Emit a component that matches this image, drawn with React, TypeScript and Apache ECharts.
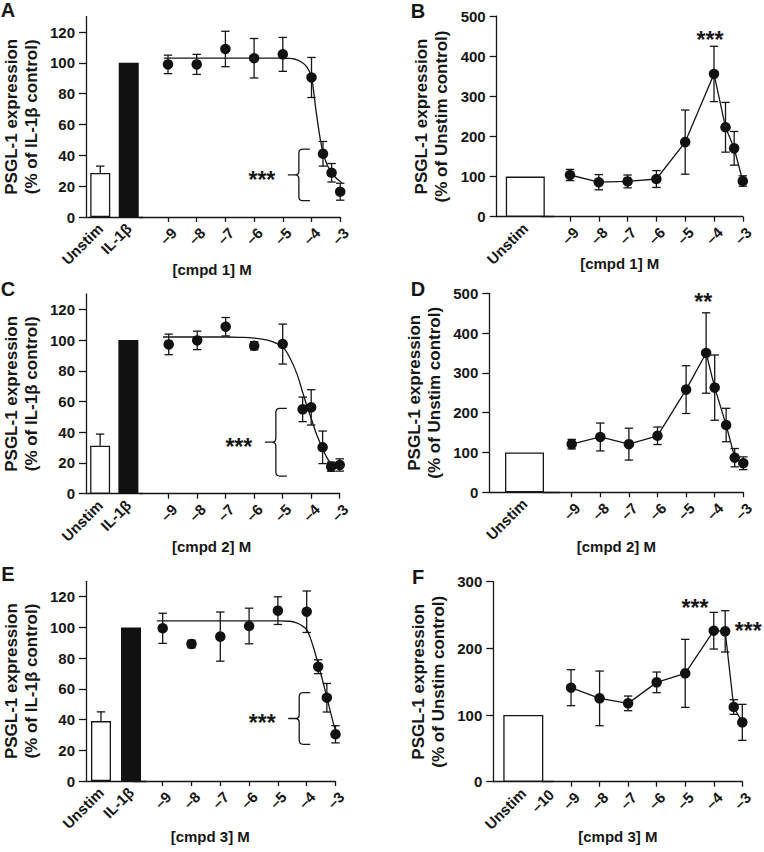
import React, { useEffect, useRef } from "react";
import * as echarts from "echarts";

// ---------------- data ----------------
const barCatsIL = ["Unstim", "IL-1β"];
const barCatsUnstim = ["Unstim"];
const logTicks = [-9, -8, -7, -6, -5, -4, -3];
const logLabelsF = [-10, -9, -8, -7, -6, -5, -4, -3];
const yTicksPct = [0, 20, 40, 60, 80, 100, 120];
const yTicks500 = [0, 100, 200, 300, 400, 500];
const yTicks300 = [0, 100, 200, 300];

// Panel A  (cmpd 1, % of IL-1β control)
const barA = [28.5, 100];
const barErrA = [4.5, 0];
const doseA = [-9, -8, -7, -6, -5, -4, -3.6, -3.3, -3];
const meanA = [99, 99, 109, 103, 105.5, 90.5, 41, 28.7, 16.4];
const errA = [6, 6.5, 11.5, 12.8, 11, 13, 8, 6, 5.5];
const fitXA = [-9.15, -6, -5, -4.6, -4.35, -4.15, -4, -3.85, -3.7, -3.6, -3.45, -3.3, -3.15, -3, -2.85];
const fitYA = [103, 103, 103, 102.5, 100.5, 97, 90.5, 70, 51, 42, 33.5, 29, 25.5, 23, 21.5];

// Panel B  (cmpd 1, % of Unstim control)
const barB = [100];
const doseB = [-9, -8, -7, -6, -5, -4, -3.6, -3.3, -3];
const meanB = [104, 86, 88, 94, 186, 356, 223, 170.5, 89];
const errB = [14, 19, 16, 21, 80, 69, 62, 42, 13];

// Panel C  (cmpd 2, % of IL-1β control)
const barC = [31.2, 100];
const barErrC = [7.6, 0];
const doseC = [-9, -8, -7, -6, -5, -4.3, -4, -3.6, -3.3, -3];
const meanC = [97.2, 99.8, 108.7, 96.3, 97.4, 54.9, 56.2, 30.2, 17.6, 18.7];
const errC = [6.7, 6, 6, 2.7, 13, 8, 11.5, 10.6, 3, 4];
const fitXC = [-9.2, -7, -6.5, -6, -5.5, -5, -4.75, -4.5, -4.3, -4.15, -4, -3.8, -3.6, -3.45, -3.3, -3.15];
const fitYC = [102, 102, 101.8, 101.3, 99.8, 95.5, 88.5, 78, 66, 57, 49, 38, 29.5, 23.5, 19.5, 16.5];

// Panel D  (cmpd 2, % of Unstim control)
const barD = [100];
const doseD = [-9, -8, -7, -6, -5, -4.3, -4, -3.6, -3.3, -3];
const meanD = [121, 139, 121, 142, 258, 350, 263, 169, 87, 73];
const errD = [12, 35, 40, 22, 60, 101, 82, 42, 23, 16];

// Panel E  (cmpd 3, % of IL-1β control)
const barE = [39, 100];
const barErrE = [6, 0];
const doseE = [-9, -8, -7, -6, -5, -4, -3.6, -3.3, -3];
const meanE = [99.4, 89.2, 94, 100.9, 110.9, 110.2, 74.4, 54.2, 30.4];
const errE = [9.8, 2.5, 16, 11.6, 9, 13.5, 4.5, 9.3, 5.6];
const fitXE = [-9.2, -6, -5, -4.6, -4.35, -4.2, -4, -3.8, -3.6, -3.45, -3.3, -3.15, -3, -2.95];
const fitYE = [104.3, 104.3, 104.3, 104, 103, 101.5, 98.5, 89, 76, 65.5, 54.5, 43, 32.5, 29];

// Panel F  (cmpd 3, % of Unstim control)
const barF = [100];
const doseF = [-9, -8, -7, -6, -5, -4, -3.6, -3.3, -3];
const meanF = [141, 125, 117.5, 149, 162.5, 226.5, 225.5, 112, 89];
const errF = [27, 41, 11, 15.5, 51, 27.5, 31, 11, 27];

// significance annotations: brace [x, low, high] and star labels [x, y, text]
const braceA = [-4.44, 10.6, 44];
const braceC = [-5.24, 11.5, 55.6];
const braceE = [-4.26, 23.9, 57.5];
const starsB = [[-4.14, 453, "***"]];
const starsD = [[-4.4, 490, "**"]];
const starsF = [[-4.66, 268, "***"], [-2.79, 233, "***"]];

// ---------------- styling / layout ----------------
const FONT = '"Liberation Sans", Arial, Helvetica, sans-serif';
const INK = "#161616";
const LW = 1.3;

const titlePct = "PSGL-1 expression\n(% of IL-1β control)";
const titleUnstim = "PSGL-1 expression\n(% of Unstim control)";

type Panel = {
  letter: string;
  letterPos: [number, number];
  axisX: number; yTop: number; y0: number;
  barGridW: number; barW: number;
  logL: number; logR: number;
  yMax: number; yTicks: number[];
  yName: string; xName: string; xNameY: number;
  cats: string[]; bars: number[]; barErr?: number[];
  dose: number[]; mean: number[]; err: number[];
  fitX?: number[]; fitY?: number[];
  labels: number[];
  brace?: number[];
  stars?: any[];
};

const panels: Panel[] = [
  {
    letter: "A", letterPos: [8, 10], axisX: 84, yTop: 16.6, y0: 217, barGridW: 59, barW: 20,
    logL: 139.3, logR: 340.2, yMax: 130, yTicks: yTicksPct, yName: titlePct,
    xName: "[cmpd 1] M", xNameY: 269, cats: barCatsIL, bars: barA, barErr: barErrA,
    dose: doseA, mean: meanA, err: errA, fitX: fitXA, fitY: fitYA, labels: logTicks, brace: braceA,
  },
  {
    letter: "B", letterPos: [418, 11], axisX: 496.7, yTop: 16.2, y0: 216.7, barGridW: 57.2, barW: 39,
    logL: 541.2, logR: 742.8, yMax: 500, yTicks: yTicks500, yName: titleUnstim,
    xName: "[cmpd 1] M", xNameY: 263, cats: barCatsUnstim, bars: barB,
    dose: doseB, mean: meanB, err: errB, labels: logTicks, stars: starsB,
  },
  {
    letter: "C", letterPos: [8, 289], axisX: 83.5, yTop: 294, y0: 493.7, barGridW: 59, barW: 20,
    logL: 140.2, logR: 339.7, yMax: 130, yTicks: yTicksPct, yName: titlePct,
    xName: "[cmpd 2] M", xNameY: 546.7, cats: barCatsIL, bars: barC, barErr: barErrC,
    dose: doseC, mean: meanC, err: errC, fitX: fitXC, fitY: fitYC, labels: logTicks, brace: braceC,
  },
  {
    letter: "D", letterPos: [418, 289], axisX: 489.3, yTop: 293.3, y0: 492.3, barGridW: 70.4, barW: 39,
    logL: 543.1, logR: 743.3, yMax: 500, yTicks: yTicks500, yName: titleUnstim,
    xName: "[cmpd 2] M", xNameY: 546.7, cats: barCatsUnstim, bars: barD,
    dose: doseD, mean: meanD, err: errD, labels: logTicks, stars: starsD,
  },
  {
    letter: "E", letterPos: [8, 574], axisX: 85, yTop: 581.3, y0: 781, barGridW: 61, barW: 20,
    logL: 133.9, logR: 335.5, yMax: 130, yTicks: yTicksPct, yName: titlePct,
    xName: "[cmpd 3] M", xNameY: 836, cats: barCatsIL, bars: barE, barErr: barErrE,
    dose: doseE, mean: meanE, err: errE, fitX: fitXE, fitY: fitYE, labels: logTicks, brace: braceE,
  },
  {
    letter: "F", letterPos: [418, 577], axisX: 493.3, yTop: 581.7, y0: 781.7, barGridW: 60, barW: 40,
    logL: 542.5, logR: 742.3, yMax: 300, yTicks: yTicks300, yName: titleUnstim,
    xName: "[cmpd 3] M", xNameY: 836, cats: barCatsUnstim, bars: barF,
    dose: doseF, mean: meanF, err: errF, labels: logLabelsF, stars: starsF,
  },
];

const fmtLog = (v: number) => (v < 0 ? "\u2013" + Math.abs(v) : String(v));

function errorBarRender(params: any, api: any) {
  const x = api.value(0);
  const lo = api.value(1);
  const hi = api.value(2);
  const pLo = api.coord([x, lo]);
  const pHi = api.coord([x, hi]);
  const hw = 4.2;
  const style = { stroke: INK, lineWidth: LW, fill: "none" };
  return {
    type: "group",
    children: [
      { type: "line", shape: { x1: pLo[0], y1: pLo[1], x2: pHi[0], y2: pHi[1] }, style },
      { type: "line", shape: { x1: pHi[0] - hw, y1: pHi[1], x2: pHi[0] + hw, y2: pHi[1] }, style },
      { type: "line", shape: { x1: pLo[0] - hw, y1: pLo[1], x2: pLo[0] + hw, y2: pLo[1] }, style },
    ],
  };
}

function barErrRender(params: any, api: any) {
  const x = api.value(0);
  const lo = api.value(1);
  const hi = api.value(2);
  const pLo = api.coord([x, lo]);
  const pHi = api.coord([x, hi]);
  const hw = 4.2;
  const style = { stroke: INK, lineWidth: LW, fill: "none" };
  return {
    type: "group",
    children: [
      { type: "line", shape: { x1: pLo[0], y1: pLo[1], x2: pHi[0], y2: pHi[1] }, style },
      { type: "line", shape: { x1: pHi[0] - hw, y1: pHi[1], x2: pHi[0] + hw, y2: pHi[1] }, style },
    ],
  };
}

function braceRender(params: any, api: any) {
  const x = api.value(0);
  const lo = api.value(1);
  const hi = api.value(2);
  const pt = api.coord([x, hi]);
  const pb = api.coord([x, lo]);
  const x0 = pt[0];
  const yt = pt[1];
  const yb = pb[1];
  const ym = (yt + yb) / 2;
  const arm = 11, tip = 11, r = 4;
  const d =
    `M${x0 + arm},${yt} L${x0 + r},${yt} Q${x0},${yt} ${x0},${yt + r} L${x0},${ym - r} ` +
    `Q${x0},${ym} ${x0 - r},${ym} L${x0 - tip},${ym} M${x0 - r},${ym} Q${x0},${ym} ${x0},${ym + r} ` +
    `L${x0},${yb - r} Q${x0},${yb} ${x0 + r},${yb} L${x0 + arm},${yb}`;
  return {
    type: "group",
    children: [
      { type: "path", shape: { pathData: d }, style: { stroke: INK, lineWidth: LW, fill: "none" } },
      {
        type: "text",
        style: {
          text: "***", x: x0 - 37, y: ym + 5, align: "center", verticalAlign: "middle",
          fill: INK, fontSize: 23, fontWeight: "bold", fontFamily: FONT,
        },
      },
    ],
  };
}

const starsText: Record<string, string[]> = {};

function starsRender(params: any, api: any) {
  const p = api.coord([api.value(0), api.value(1)]);
  const txt = starsText[params.seriesName]?.[params.dataIndex] ?? "***";
  return {
    type: "text",
    style: {
      text: txt, x: p[0], y: p[1] + 5, align: "center", verticalAlign: "middle",
      fill: INK, fontSize: 23, fontWeight: "bold", fontFamily: FONT,
    },
  };
}

function buildOption() {
  const grid: any[] = [];
  const xAxis: any[] = [];
  const yAxis: any[] = [];
  const series: any[] = [];
  const graphic: any[] = [];

  const axisLine = { show: true, lineStyle: { color: INK, width: LW } };
  const labelStyle = { color: INK, fontSize: 15, fontWeight: "bold", fontFamily: FONT };

  panels.forEach((p, i) => {
    const gb = 2 * i;
    const gl = 2 * i + 1;
    const h = p.y0 - p.yTop;
    grid.push({ left: p.axisX, top: p.yTop, width: p.barGridW, height: h });
    grid.push({ left: p.logL, top: p.yTop, width: p.logR - p.logL, height: h });

    xAxis.push({
      gridIndex: gb, type: "category", data: p.cats, axisLine, axisTick: { show: false },
      axisLabel: { ...labelStyle, rotate: 45, interval: 0, margin: 9 },
      splitLine: { show: false },
    });
    xAxis.push({
      gridIndex: gl, type: "value", min: -10, max: -3, interval: 1, axisLine,
      axisTick: { show: true, customValues: logTicks, length: 5, lineStyle: { color: INK, width: LW } },
      axisLabel: {
        ...labelStyle, rotate: 45, customValues: p.labels, formatter: fmtLog, margin: 19,
        align: "center", verticalAlign: "middle",
      },
      splitLine: { show: false },
    });
    const step = p.yTicks[1] - p.yTicks[0];
    yAxis.push({
      gridIndex: gb, type: "value", min: 0, max: p.yMax, interval: step, axisLine,
      axisTick: { show: true, customValues: p.yTicks, length: 7, lineStyle: { color: INK, width: LW } },
      axisLabel: { ...labelStyle, customValues: p.yTicks, margin: 11 },
      splitLine: { show: false },
      name: p.yName, nameLocation: "middle", nameRotate: 90, nameGap: 45,
      nameTextStyle: { color: INK, fontSize: 17, fontWeight: "bold", fontFamily: FONT, lineHeight: 20 },
    });
    yAxis.push({ gridIndex: gl, type: "value", min: 0, max: p.yMax, interval: step, show: false, splitLine: { show: false } });

    // bars
    series.push({
      type: "bar", xAxisIndex: gb, yAxisIndex: gb, barWidth: p.barW,
      data: p.bars.map((v, j) => ({
        value: v,
        itemStyle: j === 0
          ? { color: "#ffffff", borderColor: INK, borderWidth: LW }
          : { color: "#111111", borderColor: "#111111", borderWidth: 0 },
      })),
      z: 2,
    });
    if (p.barErr) {
      const items = p.bars
        .map((v, j) => [j, v, v + (p.barErr as number[])[j]])
        .filter((d, j) => (p.barErr as number[])[j] > 0);
      series.push({
        type: "custom", xAxisIndex: gb, yAxisIndex: gb, renderItem: barErrRender,
        encode: { x: 0, y: [1, 2] }, data: items, z: 1,
      });
    }

    // error bars of dose points
    series.push({
      type: "custom", xAxisIndex: gl, yAxisIndex: gl, renderItem: errorBarRender, clip: false,
      encode: { x: 0, y: [1, 2] },
      data: p.dose.map((d, j) => [d, p.mean[j] - p.err[j], p.mean[j] + p.err[j]]),
      z: 3,
    });

    if (p.fitX && p.fitY) {
      series.push({
        type: "line", xAxisIndex: gl, yAxisIndex: gl, clip: false, smooth: 0.35,
        symbol: "none", showSymbol: false,
        lineStyle: { color: INK, width: LW },
        data: p.fitX.map((x, j) => [x, (p.fitY as number[])[j]]),
        z: 3,
      });
      series.push({
        type: "scatter", xAxisIndex: gl, yAxisIndex: gl, symbol: "circle", symbolSize: 10.5,
        itemStyle: { color: "#111111", opacity: 1 }, clip: false,
        data: p.dose.map((d, j) => [d, p.mean[j]]),
        z: 4,
      });
    } else {
      series.push({
        type: "line", xAxisIndex: gl, yAxisIndex: gl, clip: false,
        symbol: "circle", symbolSize: 10.5, showSymbol: true,
        itemStyle: { color: "#111111", opacity: 1 },
        lineStyle: { color: INK, width: LW },
        data: p.dose.map((d, j) => [d, p.mean[j]]),
        z: 4,
      });
    }

    if (p.brace) {
      series.push({
        type: "custom", xAxisIndex: gl, yAxisIndex: gl, renderItem: braceRender, clip: false,
        encode: { x: 0, y: [1, 2] }, data: [p.brace], z: 5,
      });
    }
    if (p.stars) {
      const name = "stars" + p.letter;
      starsText[name] = p.stars.map((s) => s[2]);
      series.push({
        type: "custom", name, xAxisIndex: gl, yAxisIndex: gl, renderItem: starsRender, clip: false,
        encode: { x: 0, y: 1 }, data: p.stars.map((s) => [s[0], s[1]]), z: 5,
      });
    }

    // panel letter & x-axis title
    graphic.push({
      type: "text", x: p.letterPos[0], y: p.letterPos[1],
      style: {
        text: p.letter, align: "center", verticalAlign: "middle", fill: INK,
        fontSize: 20, fontWeight: "bold", fontFamily: FONT,
      },
    });
    graphic.push({
      type: "text", x: (p.axisX + p.logR) / 2, y: p.xNameY,
      style: {
        text: p.xName, align: "center", verticalAlign: "middle", fill: INK,
        fontSize: 15, fontWeight: "bold", fontFamily: FONT,
      },
    });
  });

  return {
    animation: false,
    backgroundColor: "#ffffff",
    textStyle: { fontFamily: FONT },
    grid, xAxis, yAxis, series, graphic,
  };
}

export default function App() {
  const ref = useRef<HTMLDivElement>(null);
  useEffect(() => {
    if (!ref.current) return;
    const chart = echarts.init(ref.current, undefined, { renderer: "svg" });
    chart.setOption(buildOption() as any);
    return () => chart.dispose();
  }, []);
  return (
    <div
      ref={ref}
      style={{ position: "fixed", left: 0, top: 0, width: 764, height: 852, background: "#fff" }}
    />
  );
}
